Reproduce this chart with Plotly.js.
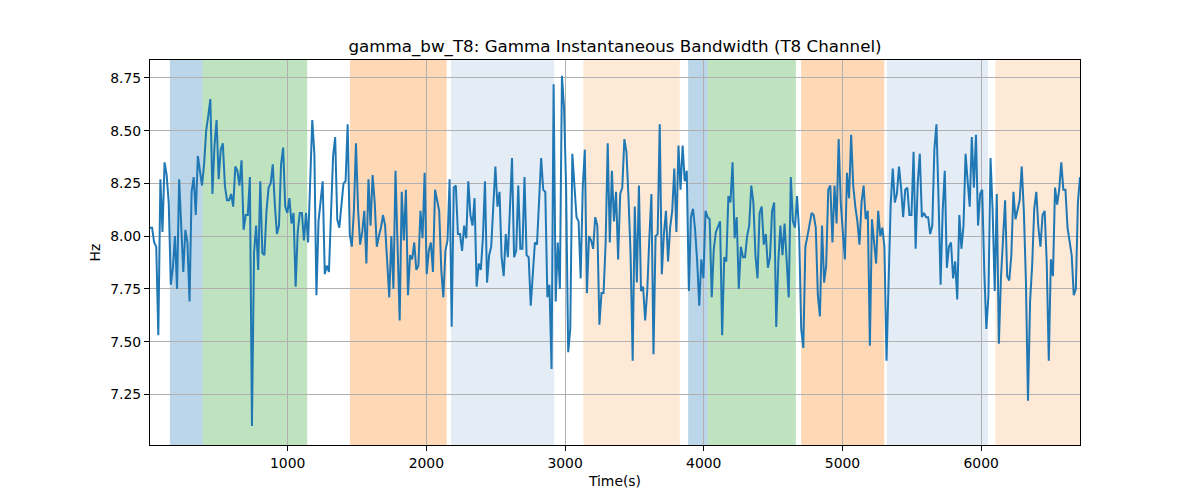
<!DOCTYPE html>
<html>
<head>
<meta charset="utf-8">
<script src="https://cdn.plot.ly/plotly-3.0.1.min.js"></script>
<style>
  html, body { margin: 0; padding: 0; background: #fff; }
  #chart { width: 1200px; height: 500px; }
</style>
</head>
<body>
<div id="chart"></div>
<script>
// samples are 15 s apart, first one at 7.5 s
const t0 = 7.5;
const step = 15;

// gamma bandwidth, Hz (left to right)
const hz = [
  8.04, 8.04, 7.97, 7.95, 7.53, 8.27, 8.02, 8.35, 8.29, 8.16,
  7.77, 7.85, 8.00, 7.75, 8.27, 8.07, 7.83, 8.03, 7.97, 7.69,
  8.21, 8.28, 8.10, 8.38, 8.30, 8.24, 8.34, 8.50, 8.57, 8.65,
  8.20, 8.43, 8.55, 8.27, 8.41, 8.44, 8.24, 8.17, 8.17, 8.20,
  8.14, 8.33, 8.31, 8.24, 8.36, 8.03, 8.10, 8.10, 8.28, 7.10,
  7.92, 8.05, 7.84, 8.26, 7.92, 7.91, 8.12, 8.23, 8.25, 8.34,
  8.15, 8.01, 8.05, 8.34, 8.42, 8.14, 8.11, 8.18, 8.06, 8.11,
  7.76, 8.02, 8.11, 8.11, 7.98, 8.11, 7.97, 8.26,

  8.55, 8.39, 7.72, 8.07, 8.18, 8.26, 7.82, 7.86, 7.83, 8.08,
  8.38, 8.47, 8.08, 8.04, 8.16, 8.25, 8.26, 8.53, 8.01, 7.95,
  8.12, 8.44, 8.13, 7.96, 8.02, 8.12, 7.87, 8.27, 8.05, 8.29,
  8.16, 7.95, 8.00, 8.04, 8.10, 8.05, 7.88, 7.71, 8.00, 7.75,
  8.31, 7.97, 7.60, 8.21, 7.98, 8.22, 7.72, 7.91, 7.89, 7.97,
  7.84, 7.86, 8.12, 7.99, 8.30, 7.82, 7.93, 7.97, 7.83, 8.22,
  8.16, 8.12, 7.84, 7.71, 7.93, 7.98, 8.27, 7.57, 8.23, 8.24,
  8.01, 8.01, 7.93, 8.05,

  7.99, 8.26, 8.10, 8.05, 8.18, 7.76, 7.87, 7.84, 7.99, 8.26,
  7.78, 7.91, 7.95, 8.15, 8.33, 8.14, 8.21, 7.90, 7.81, 8.01,
  7.90, 8.13, 8.37, 7.90, 7.93, 8.24, 7.94, 7.94, 8.28, 7.91,
  7.90, 7.67, 7.82, 7.97, 7.96, 8.20, 8.37, 8.22, 8.21, 7.71,
  7.77, 7.37, 8.72, 7.69, 7.97, 7.75, 8.76, 8.61, 8.23, 7.45,
  7.56, 8.39, 8.26, 8.09, 8.07, 7.80, 8.23, 8.41, 7.73, 8.00,
  7.98, 7.94, 8.09, 8.05, 7.58, 7.73, 7.73, 7.97, 8.44, 7.97,
  8.31, 8.07, 8.21, 7.89, 8.20,

  8.23, 8.46, 8.40, 8.18, 7.91, 7.41, 8.14, 7.78, 8.24, 7.74,
  7.76, 7.60, 7.74, 7.99, 8.20, 7.44, 8.00, 8.01, 8.53, 7.82,
  8.01, 8.12, 7.88, 8.04, 8.12, 8.32, 8.02, 8.43, 8.22, 8.43,
  8.26, 8.31, 7.74, 8.09, 8.13, 8.03, 7.88, 7.67, 7.89, 7.80,
  8.12, 8.09, 8.08, 7.71, 7.94, 8.02, 8.05, 8.07, 7.53, 7.90,
  7.88, 8.19, 8.16, 8.35, 7.99, 8.09, 7.75, 7.95, 7.90, 7.90,
  8.00, 8.05, 8.24, 8.16, 7.91, 7.80, 8.11, 8.14, 7.96, 8.01,
  7.85, 7.90, 8.12, 8.16,

  7.57, 7.88, 8.05, 7.91, 8.06, 7.90, 7.71, 8.28, 8.07, 8.04,
  8.19, 8.02, 7.56, 7.47, 7.95, 8.00, 8.05, 8.11, 8.10, 8.04,
  7.72, 7.62, 8.05, 7.78, 7.86, 8.22, 8.24, 7.97, 8.24, 8.06,
  8.46, 8.16, 8.02, 7.89, 8.30, 8.18, 8.48, 8.24, 8.14, 8.07,
  7.96, 8.16, 8.24, 8.08, 8.12, 7.48, 8.08, 7.97, 7.87, 8.12,
  8.00, 8.04, 7.95, 7.41, 7.82, 8.15, 8.32, 8.16, 8.20, 8.33,
  8.23, 8.09, 8.22, 8.23, 8.10, 8.10, 8.40, 7.94, 8.25, 8.39,
  8.09, 8.11, 8.09, 8.09, 8.01,

  8.05, 8.41, 8.53, 8.18, 7.77, 8.12, 8.31, 7.85, 7.95, 7.97,
  7.80, 7.88, 7.70, 8.10, 7.94, 8.05, 8.39, 8.26, 8.14, 8.47,
  8.23, 8.48, 8.05, 8.20, 8.22, 7.83, 7.56, 7.72, 8.37, 8.12,
  7.74, 8.20, 7.49, 7.80, 7.96, 8.17, 7.81, 7.79, 7.91, 8.21,
  8.08, 8.13, 8.17, 8.33, 8.12, 7.79, 7.22, 7.69, 7.86, 8.13,
  8.21, 8.04, 7.95, 8.10, 8.12, 7.88, 7.41, 7.89, 7.81, 8.23,
  8.15, 8.22, 8.35, 8.22, 8.22, 8.04, 7.97, 7.91, 7.72, 7.75,
  8.16, 8.28
];

// shaded intervals (s) and what kind each one is
const spanStart = [151, 387, 1449, 2178, 3132, 3887, 4029, 4702, 5320, 6102];
const spanEnd   = [387, 1141, 2147, 2921, 3827, 4029, 4664, 5301, 6049, 6712.5];
const spanKind  = ['blue', 'green', 'orange', 'paleblue', 'paleorange',
                   'blue', 'green', 'orange', 'paleblue', 'paleorange'];

const fills = {
  blue: 'rgba(31,119,180,0.3)',
  green: 'rgba(44,160,44,0.3)',
  orange: 'rgba(255,127,14,0.3)',
  paleblue: 'rgb(228,236,246)',
  paleorange: 'rgb(254,233,214)'
};

const time = hz.map((v, i) => t0 + i * step);

let shapes = [];
for (let i = 0; i < spanStart.length; i++) {
  shapes.push({
    type: 'rect', layer: 'below',
    xref: 'x', yref: 'paper',
    x0: spanStart[i], x1: spanEnd[i], y0: 0, y1: 1,
    fillcolor: fills[spanKind[i]],
    line: { width: 0 }
  });
}

const trace = {
  x: time, y: hz,
  type: 'scatter', mode: 'lines',
  line: { color: '#1f77b4', width: 2 },
  hoverinfo: 'x+y'
};

const font = 'DejaVu Sans, sans-serif';

const axisCommon = {
  showline: true, linecolor: '#000', linewidth: 1, mirror: true,
  ticks: 'outside', ticklen: 5, tickwidth: 1, tickcolor: '#000',
  showgrid: true, gridcolor: '#b0b0b0', gridwidth: 1,
  zeroline: false,
  tickfont: { family: font, size: 13.9, color: '#000' }
};

const layout = {
  width: 1200, height: 500,
  margin: { l: 150, r: 120, t: 60, b: 55 },
  paper_bgcolor: '#fff', plot_bgcolor: '#fff',
  showlegend: false,
  title: {
    text: 'gamma_bw_T8: Gamma Instantaneous Bandwidth (T8 Channel)',
    font: { family: font, size: 16.7, color: '#000' },
    x: 0.5, xref: 'paper', y: 0.908, yref: 'container', yanchor: 'middle'
  },
  xaxis: Object.assign({}, axisCommon, {
    range: [t0, t0 + (hz.length - 1) * step],
    tickvals: [1000, 2000, 3000, 4000, 5000, 6000],
    title: { text: 'Time(s)', font: { family: font, size: 13.9, color: '#000' }, standoff: 6 }
  }),
  yaxis: Object.assign({}, axisCommon, {
    range: [7.01, 8.835],
    tickvals: [7.25, 7.5, 7.75, 8.0, 8.25, 8.5, 8.75],
    tickformat: '.2f',
    title: { text: 'Hz', font: { family: font, size: 13.9, color: '#000' }, standoff: 6 }
  }),
  shapes: shapes
};

Plotly.newPlot('chart', [trace], layout, { displayModeBar: false, staticPlot: true });
</script>
</body>
</html>
